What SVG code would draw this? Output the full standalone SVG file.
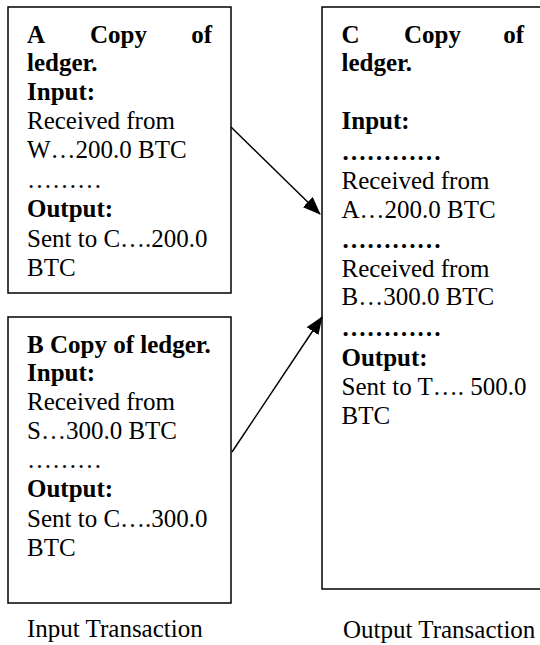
<svg xmlns="http://www.w3.org/2000/svg" width="540" height="645" viewBox="0 0 540 645">
<style>
.box{fill:#fff;stroke:#000;stroke-width:1.5}
text{font-family:"Liberation Serif","Times New Roman",serif;font-size:25px;fill:#000}
.b{font-weight:bold}
.conn{stroke:#000;stroke-width:1.5;fill:none}
</style>
<defs>
<marker id="ah" markerWidth="18" markerHeight="14" refX="17" refY="7" orient="auto" markerUnits="userSpaceOnUse">
<path d="M0,0 L18,7 L0,14 Z" fill="#000"/>
</marker>
</defs>
<rect width="540" height="645" fill="#fff"/>
<g id="nodeA">
<rect class="box" x="8" y="7" width="223" height="286"/>
<text class="b" y="42.5"><tspan x="27">A</tspan><tspan x="90">Copy</tspan><tspan x="212" text-anchor="end">of</tspan></text>
<text class="b" x="27" y="71">ledger.</text>
<text class="b" x="27" y="100">Input:</text>
<text x="27" y="129">Received from</text>
<text x="27" y="157.5">W…200.0 BTC</text>
<text x="27" y="188">………</text>
<text class="b" x="27" y="216.5">Output:</text>
<text x="27" y="246.5">Sent to C….200.0</text>
<text x="27" y="276">BTC</text>
</g>
<g id="nodeB">
<rect class="box" x="8" y="317" width="223" height="286"/>
<text class="b" x="27" y="352.5">B Copy of ledger.</text>
<text class="b" x="27" y="381">Input:</text>
<text x="27" y="410">Received from</text>
<text x="27" y="438.5">S…300.0 BTC</text>
<text x="27" y="468">………</text>
<text class="b" x="27" y="497">Output:</text>
<text x="27" y="526.5">Sent to C….300.0</text>
<text x="27" y="556">BTC</text>
</g>
<g id="nodeC">
<rect class="box" x="322" y="7" width="230" height="582"/>
<text class="b" y="42.5"><tspan x="341.5">C</tspan><tspan x="404">Copy</tspan><tspan x="524" text-anchor="end">of</tspan></text>
<text class="b" x="341.5" y="71">ledger.</text>
<text class="b" x="341.5" y="129">Input:</text>
<text class="b" x="341.5" y="160">…………</text>
<text x="341.5" y="188.5">Received from</text>
<text x="341.5" y="217.5">A…200.0 BTC</text>
<text class="b" x="341.5" y="247.5">…………</text>
<text x="341.5" y="276.5">Received from</text>
<text x="341.5" y="305">B…300.0 BTC</text>
<text class="b" x="341.5" y="336">…………</text>
<text class="b" x="341.5" y="366">Output:</text>
<text x="341.5" y="395">Sent to T…. 500.0</text>
<text x="341.5" y="424">BTC</text>
</g>
<g id="labels">
<text x="27" y="637">Input Transaction</text>
<text x="343" y="637.5">Output Transaction</text>
</g>
<g id="connectors">
<line class="conn" x1="231" y1="127" x2="320" y2="214" marker-end="url(#ah)"/>
<line class="conn" x1="232" y1="452" x2="322" y2="317" marker-end="url(#ah)"/>
</g>
</svg>
